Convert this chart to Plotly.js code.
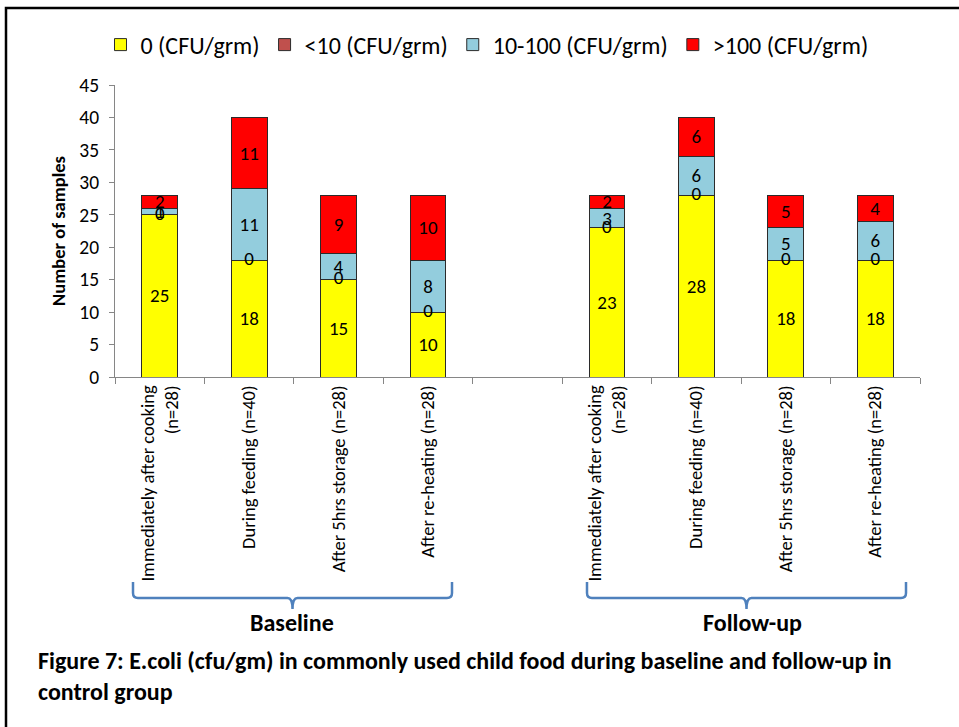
<!DOCTYPE html>
<html>
<head>
<meta charset="utf-8">
<script src="https://cdn.plot.ly/plotly-3.0.1.min.js"></script>
<style>
  html, body { margin: 0; padding: 0; background: #fff; }
  #chart { width: 959px; height: 727px; }
</style>
</head>
<body>
<div id="chart"></div>
<script>
// ---- Data ----
const categories = [
  "Immediately after cooking<br>(n=28)",
  "During feeding (n=40)",
  "After 5hrs storage (n=28)",
  "After re-heating (n=28)"
];
const groups = ["Baseline", "Follow-up"];
const seriesNames = ["0 (CFU/grm)", "<10 (CFU/grm)", "10-100 (CFU/grm)", ">100 (CFU/grm)"];

const zeroBaseline   = [25, 18, 15, 10];
const lt10Baseline   = [0, 0, 0, 0];
const mid10Baseline  = [1, 11, 4, 8];
const gt100Baseline  = [2, 11, 9, 10];

const zeroFollowup   = [23, 28, 18, 18];
const lt10Followup   = [0, 0, 0, 0];
const mid10Followup  = [3, 6, 5, 6];
const gt100Followup  = [2, 6, 5, 4];

const caption = "Figure 7: E.coli (cfu/gm) in commonly used child food during baseline and follow-up in<br>control group";

// ---- Build ----
const colors = ["#FFFF00", "#C0504D", "#93CDDD", "#FF0000"];
const FONT = "Carlito, Calibri, Lato, 'Open Sans', sans-serif";

// positions: baseline slots 0..3, one empty slot, follow-up slots 5..8
const xs = [];
categories.forEach((c, i) => xs.push(i));
categories.forEach((c, i) => xs.push(i + categories.length + 1));
const ticktext = categories.concat(categories);

const seriesVals = [
  zeroBaseline.concat(zeroFollowup),
  lt10Baseline.concat(lt10Followup),
  mid10Baseline.concat(mid10Followup),
  gt100Baseline.concat(gt100Followup)
];

const traces = seriesVals.map((vals, k) => ({
  type: "bar",
  name: seriesNames[k],
  x: xs,
  y: vals,
  width: 0.4,
  marker: { color: colors[k], line: { color: "#2b2b2b", width: 1 } },
  text: k === 1 ? vals.map(() => "") : vals.map(String),
  textposition: "inside",
  insidetextanchor: "middle",
  textangle: 0,
  constraintext: "none",
  textfont: { family: FONT, size: 19, color: "#000" },
  hoverinfo: "x+y+name"
}));

// labels for the zero-height "<10" segments, placed at their stack position
const lt10Vals = seriesVals[1];
traces.push({
  type: "scatter",
  mode: "text",
  x: xs,
  y: seriesVals[0].map((v, i) => v + lt10Vals[i] / 2),
  text: lt10Vals.map(String),
  textposition: "middle center",
  textfont: { family: FONT, size: 19, color: "#000" },
  showlegend: false,
  hoverinfo: "skip",
  cliponaxis: false
});

// ---- Layout helpers (pixel -> paper) ----
const L = 115, R = 920, T = 85, B = 377;
const px = x => (x - L) / (R - L);
const py = y => (B - y) / (B - T);

function bracePath(x0, x1, yTop, yBar, yTip) {
  const xc = (x0 + x1) / 2;
  const r = 5;
  return `M ${px(x0)} ${py(yTop)} L ${px(x0)} ${py(yBar - r)} Q ${px(x0)} ${py(yBar)} ${px(x0 + r)} ${py(yBar)} ` +
         `L ${px(xc - r)} ${py(yBar)} Q ${px(xc)} ${py(yBar)} ${px(xc)} ${py(yTip)} ` +
         `Q ${px(xc)} ${py(yBar)} ${px(xc + r)} ${py(yBar)} L ${px(x1 - r)} ${py(yBar)} ` +
         `Q ${px(x1)} ${py(yBar)} ${px(x1)} ${py(yBar - r)} L ${px(x1)} ${py(yTop)}`;
}

const nSlots = categories.length * 2 + 1;
const boundaries = [];
for (let i = 0; i <= nSlots; i++) boundaries.push(i - 0.5);

const layout = {
  width: 959,
  height: 727,
  margin: { l: L, r: 959 - R, t: T, b: 727 - B, pad: 0 },
  paper_bgcolor: "#fff",
  plot_bgcolor: "#fff",
  barmode: "stack",
  showlegend: true,
  legend: {
    orientation: "h",
    x: px(487), xanchor: "center",
    y: py(45), yanchor: "middle",
    font: { family: FONT, size: 24, color: "#000" },
    traceorder: "normal",
    itemclick: false
  },
  xaxis: {
    range: [-0.5, nSlots - 0.5],
    tickmode: "array",
    tickvals: xs,
    ticktext: ticktext,
    tickangle: -90,
    ticks: "",
    tickfont: { family: FONT, size: 18.5, color: "#000" },
    showgrid: false,
    zeroline: false,
    showline: true,
    linecolor: "#868686",
    linewidth: 1,
    fixedrange: true
  },
  xaxis2: {
    overlaying: "x",
    anchor: "y",
    side: "bottom",
    range: [-0.5, nSlots - 0.5],
    tickmode: "array",
    tickvals: boundaries,
    showticklabels: false,
    ticks: "outside",
    ticklen: 6,
    tickcolor: "#868686",
    showgrid: false,
    zeroline: false,
    showline: false
  },
  yaxis: {
    range: [0, 45],
    dtick: 5,
    ticks: "outside",
    ticklen: 5,
    tickcolor: "#868686",
    ticklabelstandoff: 6,
    tickfont: { family: FONT, size: 19.5, color: "#000" },
    showgrid: false,
    zeroline: false,
    showline: true,
    linecolor: "#868686",
    linewidth: 1,
    title: { text: "<b>Number of samples</b>", font: { family: FONT, size: 18.5, color: "#000" }, standoff: 8 },
    fixedrange: true
  },
  shapes: [
    // outer frame (top and left edges visible)
    { type: "path", xref: "paper", yref: "paper",
      path: `M ${px(6)} ${py(740)} L ${px(6)} ${py(8)} L ${px(965)} ${py(8)}`,
      line: { color: "#000", width: 2.5 } },
    { type: "path", xref: "paper", yref: "paper",
      path: bracePath(133, 452, 582, 598, 609),
      line: { color: "#4F81BD", width: 2.5 } },
    { type: "path", xref: "paper", yref: "paper",
      path: bracePath(587, 906, 582, 598, 609),
      line: { color: "#4F81BD", width: 2.5 } }
  ],
  annotations: [
    { xref: "paper", yref: "paper", x: px(292), y: py(622), text: "<b>" + groups[0] + "</b>",
      showarrow: false, xanchor: "center", yanchor: "middle",
      font: { family: FONT, size: 24, color: "#000" } },
    { xref: "paper", yref: "paper", x: px(752), y: py(622), text: "<b>" + groups[1] + "</b>",
      showarrow: false, xanchor: "center", yanchor: "middle",
      font: { family: FONT, size: 24, color: "#000" } },
    { xref: "paper", yref: "paper", x: px(36), y: py(676), text: "<b>" + caption + "</b>",
      showarrow: false, xanchor: "left", yanchor: "middle", align: "left",
      font: { family: FONT, size: 24, color: "#000" } }
  ]
};

// dummy trace to activate xaxis2 for boundary ticks
traces.push({ type: "scatter", x: [], y: [], xaxis: "x2", yaxis: "y", showlegend: false, hoverinfo: "skip" });

Plotly.newPlot("chart", traces, layout, { displayModeBar: false, staticPlot: true });
</script>
</body>
</html>
